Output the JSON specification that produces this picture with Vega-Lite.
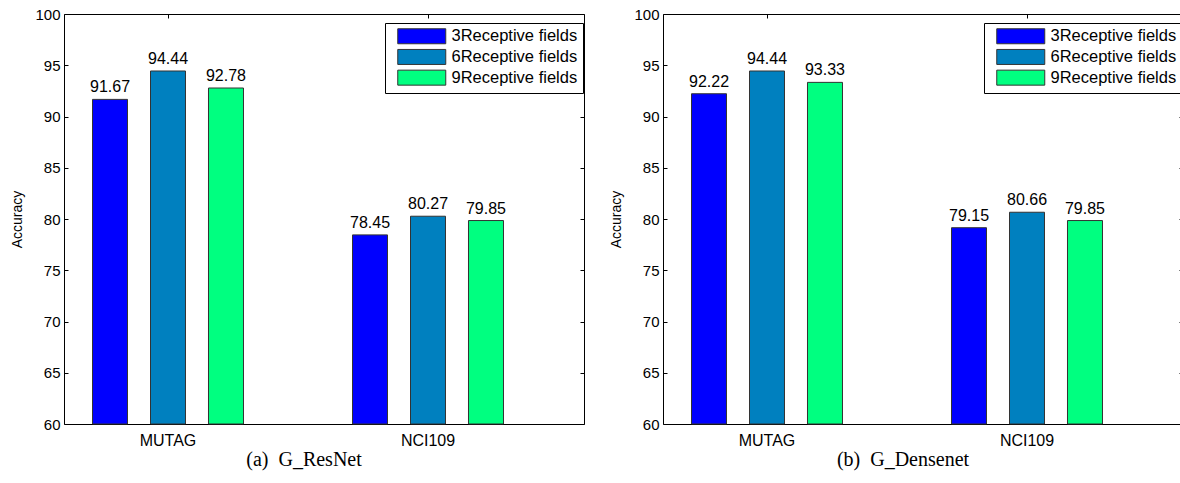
{
  "$schema": "https://vega.github.io/schema/vega-lite/v6.json",
  "autosize": "none",
  "padding": {"left": 64, "top": 14, "right": 1116, "bottom": 59},
  "background": "white",
  "datasets": {
    "resnet": [
      {"dataset": "MUTAG", "rf": "3Receptive fields", "accuracy": 91.67},
      {"dataset": "MUTAG", "rf": "6Receptive fields", "accuracy": 94.44},
      {"dataset": "MUTAG", "rf": "9Receptive fields", "accuracy": 92.78},
      {"dataset": "NCI109", "rf": "3Receptive fields", "accuracy": 78.45},
      {"dataset": "NCI109", "rf": "6Receptive fields", "accuracy": 80.27},
      {"dataset": "NCI109", "rf": "9Receptive fields", "accuracy": 79.85}
    ],
    "densenet": [
      {"dataset": "MUTAG", "rf": "3Receptive fields", "accuracy": 92.22},
      {"dataset": "MUTAG", "rf": "6Receptive fields", "accuracy": 94.44},
      {"dataset": "MUTAG", "rf": "9Receptive fields", "accuracy": 93.33},
      {"dataset": "NCI109", "rf": "3Receptive fields", "accuracy": 79.15},
      {"dataset": "NCI109", "rf": "6Receptive fields", "accuracy": 80.66},
      {"dataset": "NCI109", "rf": "9Receptive fields", "accuracy": 79.85}
    ]
  },
  "bounds": "flush",
  "spacing": 79,
  "resolve": {"scale": {"color": "independent"}, "legend": {"color": "independent"}},
  "hconcat": [
    {
      "width": 520,
      "height": 410,
      "data": {"name": "resnet"},
      "title": {"text": "(a)\u00a0\u00a0G_ResNet", "orient": "bottom", "anchor": "middle", "dx": -20, "offset": 2, "font": "Liberation Serif", "fontSize": 20, "fontWeight": "normal", "color": "black"},
      "resolve": {"axis": {"x": "independent", "y": "independent"}},
      "layer": [
        {
          "mark": {"type": "bar", "stroke": "#333333", "strokeWidth": 1},
          "encoding": {
            "x": {"field": "dataset", "type": "nominal", "sort": null,
                  "scale": {"range": [-26, 494], "paddingInner": 0, "paddingOuter": 0},
                  "axis": {"orient": "bottom", "title": null, "ticks": false, "domain": false, "labelAngle": 0, "labelPadding": 8, "labelFontSize": 16}},
            "xOffset": {"field": "rf", "type": "nominal", "sort": null,
                  "scale": {"paddingInner": 0.3966, "paddingOuter": 0.94}},
            "y": {"field": "accuracy", "type": "quantitative",
                  "scale": {"domain": [60, 100], "zero": false, "nice": false},
                  "axis": {"orient": "left", "title": "Accuracy", "values": [60, 65, 70, 75, 80, 85, 90, 95, 100], "tickSize": -4, "labelPadding": 8, "domain": false, "grid": false, "titlePadding": 10, "titleFontSize": 14}},
            "y2": {"datum": 60},
            "color": {"field": "rf", "type": "nominal", "sort": null,
                  "scale": {"domain": ["3Receptive fields", "6Receptive fields", "9Receptive fields"], "range": ["#0000FF", "#0080BF", "#00FF80"]},
                  "legend": {"orient": "none", "legendX": 321, "legendY": 9}}
          }
        },
        {
          "mark": {"type": "text", "baseline": "alphabetic", "align": "center", "dy": -7, "fontSize": 16, "font": "Liberation Sans", "color": "black"},
          "encoding": {
            "x": {"field": "dataset", "type": "nominal", "sort": null,
                  "axis": {"orient": "top", "title": null, "labels": false, "tickSize": -4, "domain": false}},
            "xOffset": {"field": "rf", "type": "nominal", "sort": null},
            "y": {"field": "accuracy", "type": "quantitative",
                  "axis": {"orient": "right", "title": null, "labels": false, "tickSize": -4, "domain": false, "grid": false, "values": [60, 65, 70, 75, 80, 85, 90, 95, 100]}},
            "text": {"field": "accuracy", "type": "quantitative", "format": ".2f"}
          }
        }
      ]
    },
    {
      "width": 520,
      "height": 410,
      "data": {"name": "densenet"},
      "title": {"text": "(b)\u00a0\u00a0G_Densenet", "orient": "bottom", "anchor": "middle", "dx": -20, "offset": 2, "font": "Liberation Serif", "fontSize": 20, "fontWeight": "normal", "color": "black"},
      "resolve": {"axis": {"x": "independent", "y": "independent"}},
      "layer": [
        {
          "mark": {"type": "bar", "stroke": "#333333", "strokeWidth": 1},
          "encoding": {
            "x": {"field": "dataset", "type": "nominal", "sort": null,
                  "scale": {"range": [-26, 494], "paddingInner": 0, "paddingOuter": 0},
                  "axis": {"orient": "bottom", "title": null, "ticks": false, "domain": false, "labelAngle": 0, "labelPadding": 8, "labelFontSize": 16}},
            "xOffset": {"field": "rf", "type": "nominal", "sort": null,
                  "scale": {"paddingInner": 0.3966, "paddingOuter": 0.94}},
            "y": {"field": "accuracy", "type": "quantitative",
                  "scale": {"domain": [60, 100], "zero": false, "nice": false},
                  "axis": {"orient": "left", "title": "Accuracy", "values": [60, 65, 70, 75, 80, 85, 90, 95, 100], "tickSize": -4, "labelPadding": 8, "domain": false, "grid": false, "titlePadding": 10, "titleFontSize": 14}},
            "y2": {"datum": 60},
            "color": {"field": "rf", "type": "nominal", "sort": null,
                  "scale": {"domain": ["3Receptive fields", "6Receptive fields", "9Receptive fields"], "range": ["#0000FF", "#0080BF", "#00FF80"]},
                  "legend": {"orient": "none", "legendX": 321, "legendY": 9}}
          }
        },
        {
          "mark": {"type": "text", "baseline": "alphabetic", "align": "center", "dy": -7, "fontSize": 16, "font": "Liberation Sans", "color": "black"},
          "encoding": {
            "x": {"field": "dataset", "type": "nominal", "sort": null,
                  "axis": {"orient": "top", "title": null, "labels": false, "tickSize": -4, "domain": false}},
            "xOffset": {"field": "rf", "type": "nominal", "sort": null},
            "y": {"field": "accuracy", "type": "quantitative",
                  "axis": {"orient": "right", "title": null, "labels": false, "tickSize": -4, "domain": false, "grid": false, "values": [60, 65, 70, 75, 80, 85, 90, 95, 100]}},
            "text": {"field": "accuracy", "type": "quantitative", "format": ".2f"}
          }
        }
      ]
    }
  ],
  "config": {
    "view": {"stroke": "black", "strokeWidth": 1},
    "font": "Liberation Sans",
    "axis": {"labelFont": "Liberation Sans", "labelFontSize": 15, "labelColor": "black", "tickColor": "black", "titleFont": "Liberation Sans", "titleFontWeight": "normal", "titleColor": "black"},
    "legend": {
      "title": null,
      "direction": "vertical",
      "padding": 5,
      "strokeColor": "black",
      "fillColor": "white",
      "symbolType": "M-1,-1H5.4V1H-1Z",
      "symbolSize": 225,
      "symbolStrokeColor": "#333333",
      "symbolStrokeWidth": 1,
      "symbolOpacity": 1,
      "symbolOffset": 7,
      "labelOffset": 38,
      "labelFont": "Liberation Sans",
      "labelFontSize": 16.5,
      "labelColor": "black",
      "labelLimit": 300,
      "rowPadding": 0.7
    }
  }
}
